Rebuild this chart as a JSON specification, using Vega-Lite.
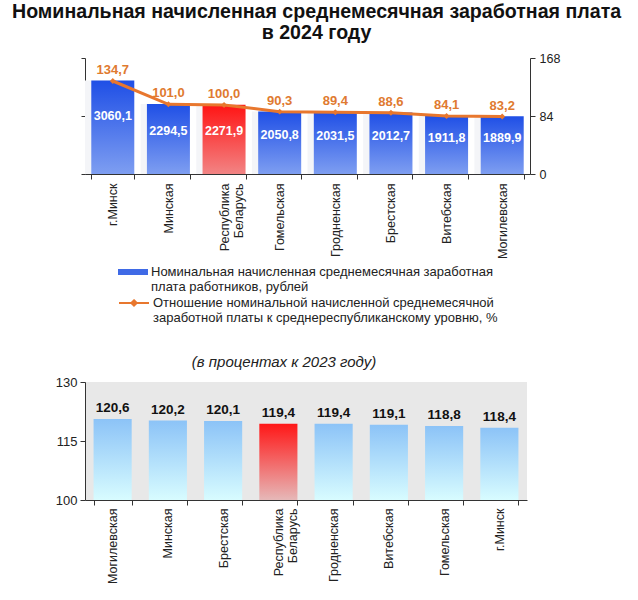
{
  "$schema": "https://vega.github.io/schema/vega-lite/v6.json",
  "padding": {"left": 12, "top": 2, "right": 5, "bottom": 5},
  "title": {
    "text": ["Номинальная начисленная среднемесячная заработная плата", "в 2024 году"],
    "font": "Liberation Sans",
    "fontSize": 19.6,
    "fontWeight": "bold",
    "color": "#111",
    "lineHeight": 21,
    "anchor": "middle",
    "dx": 9,
    "offset": 8
  },
  "config": {
    "font": "Liberation Sans",
    "view": {"fill": "#e8e8e8", "stroke": null},
    "locale": {"number": {"decimal": ",", "thousands": " ", "grouping": [3], "currency": ["", ""]}},
    "axis": {"labelColor": "#222", "domainColor": "#333", "tickColor": "#333", "grid": false, "title": null, "labelFontSize": 12.5}
  },
  "spacing": 96,
  "vconcat": [
    {
      "width": 445,
      "height": 116,
      "layer": [
        {
          "data": {
            "values": [
              {"region": "г.Минск", "wage": 3060.1, "ratio": 134.7},
              {"region": "Минская", "wage": 2294.5, "ratio": 101.0},
              {"region": "Республика Беларусь", "wage": 2271.9, "ratio": 100.0},
              {"region": "Гомельская", "wage": 2050.8, "ratio": 90.3},
              {"region": "Гродненская", "wage": 2031.5, "ratio": 89.4},
              {"region": "Брестская", "wage": 2012.7, "ratio": 88.6},
              {"region": "Витебская", "wage": 1911.8, "ratio": 84.1},
              {"region": "Могилевская", "wage": 1889.9, "ratio": 83.2}
            ]
          },
          "encoding": {
            "x": {
              "field": "region", "type": "nominal", "sort": null,
              "scale": {"paddingInner": 0.227, "paddingOuter": 0.113},
              "axis": {
                "labelAngle": -90, "tickBand": "extent", "tickSize": 5, "labelPadding": 4,
                "labelLineHeight": 14,
                "labelExpr": "datum.label == 'Республика Беларусь' ? ['Республика', 'Беларусь'] : datum.label"
              }
            }
          },
          "layer": [
            {
              "mark": {"type": "bar", "width": {"band": 1}, "xOffset": -6.3, "color": "#f4f5f8", "clip": true},
              "encoding": {"y": {"field": "wage", "type": "quantitative", "scale": {"domain": [0, 3800], "nice": false}, "axis": null}}
            },
            {
              "mark": {"type": "bar"},
              "encoding": {
                "y": {
                  "field": "wage", "type": "quantitative",
                  "scale": {"domain": [0, 3800], "nice": false},
                  "axis": {"orient": "left", "values": [0, 1900, 3800], "labels": false, "tickSize": 4}
                },
                "color": {
                  "condition": {
                    "test": "datum.region == 'Республика Беларусь'",
                    "value": {"gradient": "linear", "x1": 0, "y1": 0, "x2": 0, "y2": 1, "stops": [{"offset": 0, "color": "#ff1414"}, {"offset": 1, "color": "#f28484"}]}
                  },
                  "value": {"gradient": "linear", "x1": 0, "y1": 0, "x2": 0, "y2": 1, "stops": [{"offset": 0, "color": "#1f4fe6"}, {"offset": 1, "color": "#7e9ef1"}]}
                }
              }
            },
            {
              "mark": {"type": "text", "color": "white", "fontWeight": "bold", "fontSize": 12.5, "baseline": "middle"},
              "encoding": {
                "y": {"field": "wage", "type": "quantitative", "scale": {"domain": [0, 6130], "nice": false}, "axis": null},
                "text": {"field": "wage", "type": "quantitative", "format": ".1f"}
              }
            },
            {
              "mark": {"type": "line", "color": "#e8772e", "strokeWidth": 3, "point": {"shape": "diamond", "size": 35, "filled": true, "color": "#e8772e"}},
              "encoding": {
                "y": {
                  "field": "ratio", "type": "quantitative",
                  "scale": {"domain": [0, 168], "nice": false},
                  "axis": {"orient": "right", "values": [0, 84, 168], "tickSize": 5, "labelPadding": 4}
                }
              }
            },
            {
              "mark": {"type": "text", "color": "#e07a30", "fontWeight": "bold", "fontSize": 13, "baseline": "bottom", "dy": -4},
              "encoding": {
                "y": {"field": "ratio", "type": "quantitative", "scale": {"domain": [0, 168], "nice": false}, "axis": null},
                "text": {"field": "ratio", "type": "quantitative", "format": ".1f"}
              }
            }
          ],
          "resolve": {"scale": {"y": "independent"}}
        },
        {
          "data": {"values": [{"series": "bar"}]},
          "mark": {"type": "point", "opacity": 0},
          "encoding": {
            "fill": {
              "field": "series", "type": "nominal",
              "scale": {"domain": ["bar"], "range": ["#3f6ae6"]},
              "legend": {
                "orient": "none", "legendX": 33, "legendY": 199, "title": null,
                "labelFontSize": 13, "labelColor": "#222", "labelLimit": 600, "labelOffset": 3,
                "symbolType": "M-1,-0.2H1V0.2H-1Z", "symbolSize": 900, "symbolOpacity": 1,
                "symbolStrokeWidth": 0, "symbolStrokeColor": "#3f6ae6",
                "labelExpr": "['Номинальная начисленная среднемесячная заработная', 'плата работников, рублей']"
              }
            }
          }
        },
        {
          "data": {"values": [{"series": "line"}]},
          "mark": {"type": "point", "opacity": 0},
          "encoding": {
            "stroke": {
              "field": "series", "type": "nominal",
              "scale": {"domain": ["line"], "range": ["#e8772e"]},
              "legend": {
                "orient": "none", "legendX": 33, "legendY": 229, "title": null,
                "labelFontSize": 13, "labelColor": "#222", "labelLimit": 600, "labelOffset": 3,
                "symbolType": "M-1,0H1M0,-0.18L0.18,0L0,0.18L-0.18,0Z", "symbolSize": 900, "symbolOpacity": 1,
                "symbolStrokeWidth": 2, "symbolFillColor": "#e8772e",
                "labelExpr": "['Отношение номинальной начисленной среднемесячной', 'заработной платы к среднереспубликанскому уровню, %']"
              }
            }
          }
        }
      ]
    },
    {
      "width": 442,
      "height": 118,
      "title": {"text": "(в процентах к 2023 году)", "fontStyle": "italic", "fontSize": 15, "fontWeight": "normal", "color": "#222", "dx": -22, "offset": 6},
      "data": {
        "values": [
          {"region": "Могилевская", "pct": 120.6},
          {"region": "Минская", "pct": 120.2},
          {"region": "Брестская", "pct": 120.1},
          {"region": "Республика Беларусь", "pct": 119.4},
          {"region": "Гродненская", "pct": 119.4},
          {"region": "Витебская", "pct": 119.1},
          {"region": "Гомельская", "pct": 118.8},
          {"region": "г.Минск", "pct": 118.4}
        ]
      },
      "encoding": {
        "x": {
          "field": "region", "type": "nominal", "sort": null,
          "scale": {"paddingInner": 0.31, "paddingOuter": 0.155},
          "axis": {
            "labelAngle": -90, "tickBand": "extent", "tickSize": 5, "labelPadding": 3,
            "labelLineHeight": 14,
            "labelExpr": "datum.label == 'Республика Беларусь' ? ['Республика', 'Беларусь'] : datum.label"
          }
        },
        "y": {
          "field": "pct", "type": "quantitative",
          "scale": {"domain": [100, 130], "nice": false, "zero": false},
          "axis": {"values": [100, 115, 130], "tickSize": 5, "labelFontSize": 13, "labelPadding": 3}
        }
      },
      "layer": [
        {
          "mark": {"type": "bar"},
          "encoding": {
            "y2": {"datum": 100},
            "color": {
              "condition": {
                "test": "datum.region == 'Республика Беларусь'",
                "value": {"gradient": "linear", "x1": 0, "y1": 0, "x2": 0, "y2": 1, "stops": [{"offset": 0, "color": "#ff1717"}, {"offset": 1, "color": "#e6b8b8"}]}
              },
              "value": {"gradient": "linear", "x1": 0, "y1": 0, "x2": 0, "y2": 1, "stops": [{"offset": 0, "color": "#8cc3f7"}, {"offset": 1, "color": "#d8fcff"}]}
            }
          }
        },
        {
          "mark": {"type": "text", "color": "#111", "fontWeight": "bold", "fontSize": 13.5, "baseline": "bottom", "dy": -4},
          "encoding": {"text": {"field": "pct", "type": "quantitative", "format": ".1f"}}
        }
      ]
    }
  ]
}
